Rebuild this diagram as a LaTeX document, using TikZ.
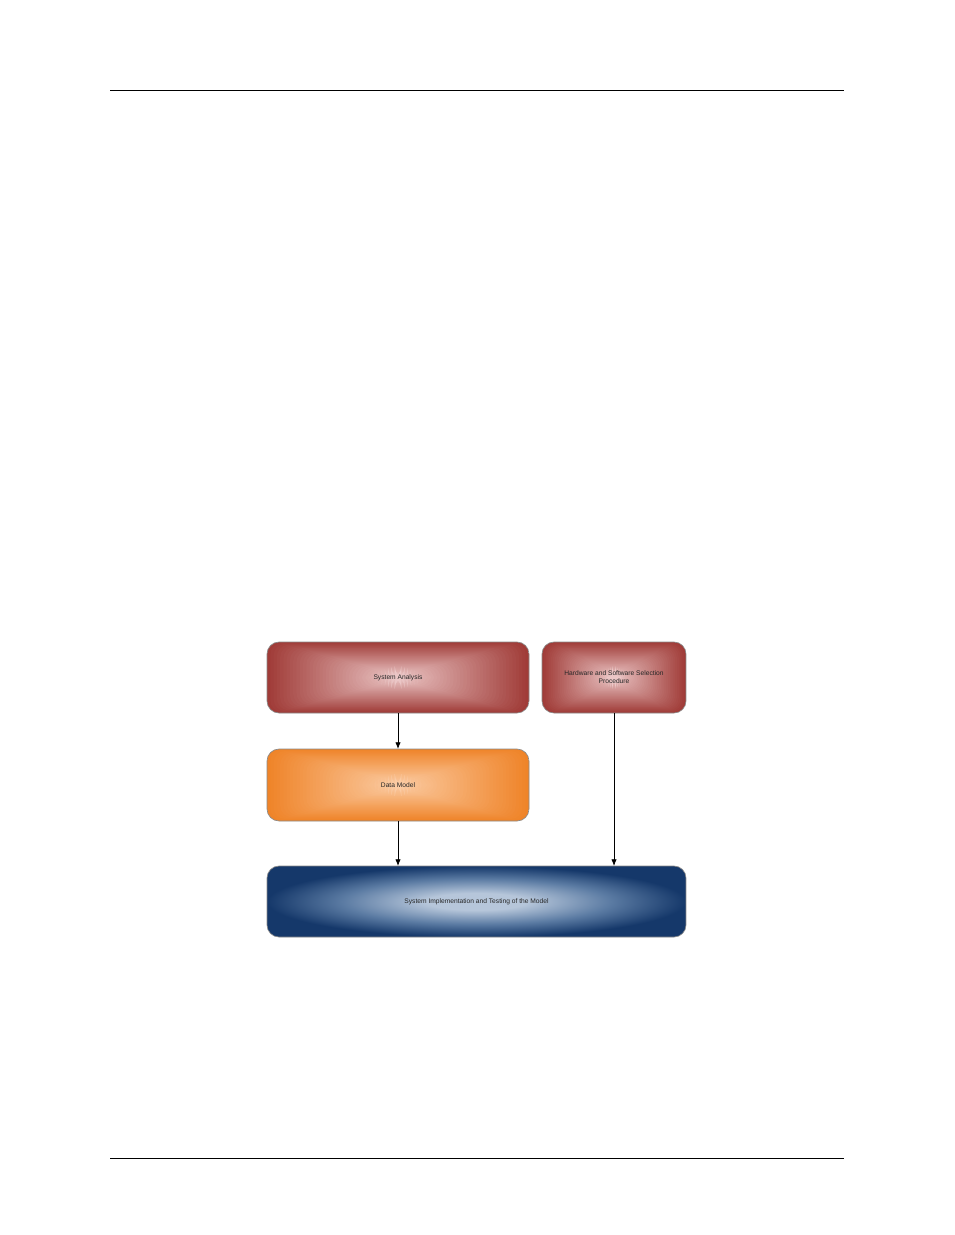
\documentclass[tikz,border=0pt]{standalone}
\usepackage{fontspec}
\setmainfont{Liberation Sans}
\usetikzlibrary{calc,arrows.meta}
\definecolor{redd}{HTML}{A03C38}
\definecolor{redl}{HTML}{EDCACA}
\definecolor{orad}{HTML}{EF8429}
\definecolor{oral}{HTML}{FBCDA6}
\definecolor{blued}{HTML}{15386A}
\definecolor{bluem}{HTML}{5B7BA3}
\definecolor{bluel}{HTML}{B6C6DA}
\definecolor{edgegrey}{HTML}{8A8A8A}
\pgfdeclareradialshading{blueglow}{\pgfpoint{0bp}{0bp}}{color(0bp)=(bluel); color(6bp)=(bluel); color(16bp)=(bluem); color(25bp)=(blued); color(50bp)=(blued)}
\newcommand{\rectgrad}[2]{%
  \foreach \k in {1,...,40}{%
    \pgfmathsetmacro\myf{1-(\k-1)/40}%
    \pgfmathsetmacro\mypct{100*\myf}%
    \fill[#1!\mypct!#2] ($(path picture bounding box.center)!\myf!(path picture bounding box.south west)$) rectangle ($(path picture bounding box.center)!\myf!(path picture bounding box.north east)$);%
  }}
\tikzset{
  box/.style={rounded corners=9pt, draw=edgegrey, line width=0.5pt, inner sep=0pt, outer sep=0pt,
    font=\fontsize{5}{6}\selectfont, text=black!85, align=center},
  redbox/.style={box, path picture={\rectgrad{redd}{redl}}},
  orabox/.style={box, path picture={\rectgrad{orad}{oral}}},
  bluebox/.style={box, shading=blueglow},
  conn/.style={line width=0.6pt, -{Latex[length=5pt,width=4pt]}},
  rule/.style={line width=0.6pt}
}
\begin{document}
\begin{tikzpicture}[x=0.75pt,y=-0.75pt]
\useasboundingbox[fill=white] (0,0) rectangle (954,1235);
\draw[rule] (110,90) -- (844,90);
\draw[rule] (110,1158) -- (844,1158);
\node[redbox, minimum width=196.5pt, minimum height=53.25pt] (req) at (398,677.5) {System Analysis};
\node[redbox, minimum width=108pt, minimum height=53.25pt] (hw) at (614,677.5) {Hardware and Software Selection\\Procedure};
\node[orabox, minimum width=196.5pt, minimum height=54pt] (dm) at (398,785) {Data Model};
\node[bluebox, minimum width=314.25pt, minimum height=53.25pt] (impl) at (476.5,901.5) {System Implementation and Testing of the Model};
\draw[conn] (req.south) -- (dm.north);
\draw[conn] (dm.south) -- (dm.south |- impl.north);
\draw[conn] (hw.south) -- (hw.south |- impl.north);
\end{tikzpicture}
\end{document}
